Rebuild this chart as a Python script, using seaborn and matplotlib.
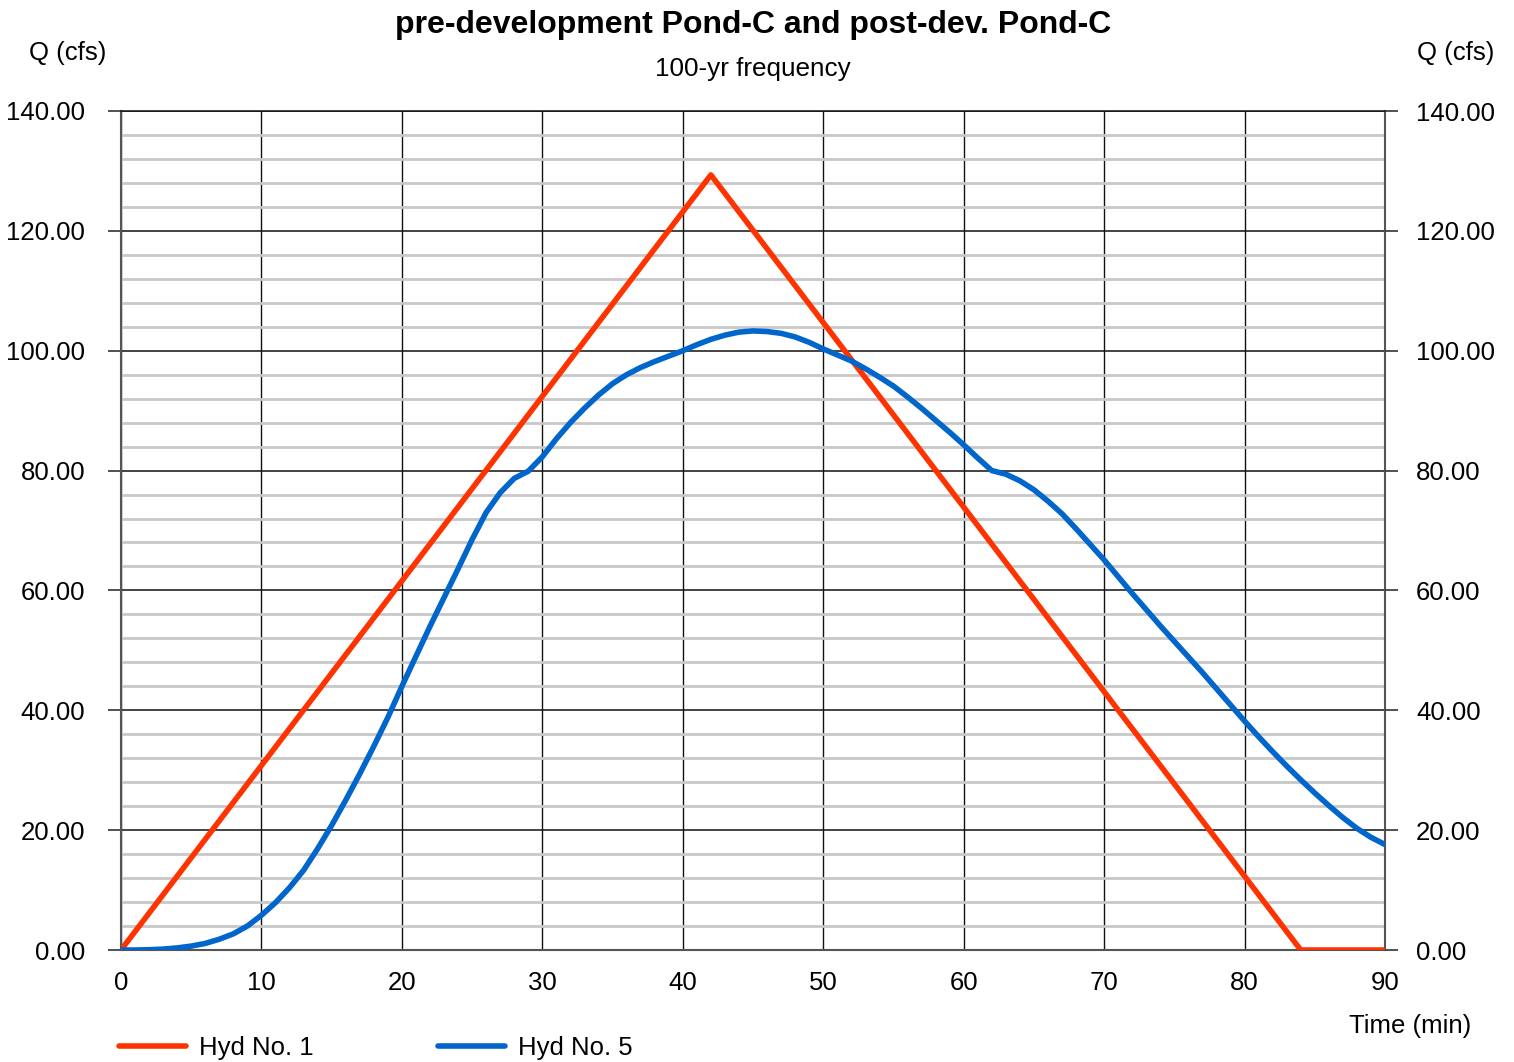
import numpy as np
import pandas as pd
import matplotlib
matplotlib.use("Agg")
import matplotlib.pyplot as plt
from matplotlib.ticker import MultipleLocator, FormatStrFormatter
from matplotlib.lines import Line2D
import seaborn as sns

# Hydrograph ordinates (time in minutes, flow in cfs)
hyd1_time = [0, 42, 84, 90]
hyd1_q = [0.0, 129.34, 0.0, 0.0]

hyd5_time = list(range(0, 91))
hyd5_q = [
    0.0, 0.0, 0.05, 0.15, 0.35, 0.65, 1.1, 1.8, 2.7, 4.0,
    5.8, 7.9, 10.4, 13.3, 16.9, 20.8, 25.0, 29.4, 34.0, 38.8,
    44.0, 49.0, 54.0, 58.8, 63.6, 68.5, 73.0, 76.3, 78.7, 79.9,
    82.3, 85.3, 88.0, 90.4, 92.6, 94.5, 96.0, 97.2, 98.2, 99.1,
    100.0, 101.0, 101.9, 102.6, 103.1, 103.3, 103.2, 102.9, 102.3, 101.4,
    100.3, 99.3, 98.3, 97.0, 95.6, 94.1, 92.3, 90.4, 88.4, 86.4,
    84.3, 82.1, 80.0, 79.4, 78.3, 76.8, 74.9, 72.8, 70.3, 67.7,
    65.1, 62.3, 59.5, 56.8, 54.1, 51.5, 48.9, 46.3, 43.6, 40.9,
    38.2, 35.6, 33.1, 30.7, 28.4, 26.2, 24.1, 22.1, 20.3, 18.8,
    17.6,
]

series_names = ["Hyd No. 1", "Hyd No. 5"]
series_colors = ["#FF3300", "#0066CC"]

title = "pre-development Pond-C and post-dev. Pond-C"
subtitle = "100-yr frequency"
y_label = "Q (cfs)"
x_label = "Time (min)"

df = pd.concat([
    pd.DataFrame({"time": hyd1_time, "q": hyd1_q, "series": series_names[0]}),
    pd.DataFrame({"time": hyd5_time, "q": hyd5_q, "series": series_names[1]}),
], ignore_index=True)

sns.set_theme(style="white")
plt.rcParams["font.family"] = ["Liberation Sans", "DejaVu Sans"]
plt.rcParams["text.color"] = "black"
FS = 18.5
LW = 4.0

W, H = 1514, 1062
fig = plt.figure(figsize=(W / 100, H / 100), dpi=100)
ax = fig.add_axes([121 / W, 1 - 950 / H, (1385 - 121) / W, (950 - 111) / H])

sns.lineplot(data=df, x="time", y="q", hue="series", palette=series_colors,
             hue_order=series_names, linewidth=LW, ax=ax, legend=False,
             estimator=None, sort=False, zorder=5)
for ln in ax.lines:
    ln.set_solid_capstyle("round")
    ln.set_solid_joinstyle("round")

ax.set_xlim(0, 90)
ax.set_ylim(0, 140)
ax.set_xlabel("")
ax.set_ylabel("")

ax.xaxis.set_major_locator(MultipleLocator(10))
ax.yaxis.set_major_locator(MultipleLocator(20))
ax.yaxis.set_minor_locator(MultipleLocator(4))
ax.yaxis.set_major_formatter(FormatStrFormatter("%.2f"))

ax.grid(which="minor", axis="y", color="#c8c8c8", linewidth=2.0, zorder=0)
ax.grid(which="major", axis="y", color="#111111", linewidth=1.1, zorder=1)
ax.grid(which="major", axis="x", color="#111111", linewidth=1.0, zorder=1)
ax.set_axisbelow(True)

for side in ["left", "right", "bottom", "top"]:
    ax.spines[side].set_color("#555555")
    ax.spines[side].set_linewidth(1.5)
ax.spines["top"].set_color("#111111")
ax.spines["top"].set_linewidth(1.1)

ax.tick_params(axis="x", which="both", length=0, pad=15, labelsize=FS, colors="black")
ax.tick_params(axis="y", which="major", direction="out", length=9.4, width=1.2,
               color="#333333", left=True, right=True, labelleft=True,
               labelright=False, pad=16.5, labelsize=FS, labelcolor="black")
ax.tick_params(axis="y", which="minor", length=0)

# Right-hand axis repeats the flow scale
ax2 = ax.twinx()
ax2.set_ylim(ax.get_ylim())
ax2.yaxis.set_major_locator(MultipleLocator(20))
ax2.yaxis.set_major_formatter(FormatStrFormatter("%.2f"))
ax2.tick_params(axis="y", which="major", direction="out", length=9.4, width=1.2,
                color="#333333", pad=13, labelsize=FS, labelcolor="black")
ax2.grid(False)
for s in ax2.spines.values():
    s.set_visible(False)

fig.text(753 / W, 1 - 25 / H, title, ha="center", va="center",
         fontsize=23, fontweight="bold", color="black")
fig.text(753 / W, 1 - 69 / H, subtitle, ha="center", va="center",
         fontsize=18.8, color="black")
fig.text(68 / W, 1 - 53 / H, y_label, ha="center", va="center", fontsize=FS, color="black")
fig.text(1456 / W, 1 - 53 / H, y_label, ha="center", va="center", fontsize=FS, color="black")
fig.text(1410 / W, 1 - 1026 / H, x_label, ha="center", va="center", fontsize=FS, color="black")

handles = [Line2D([], [], color=c, linewidth=LW, solid_capstyle="round")
           for c in series_colors]
leg = fig.legend(handles, series_names, loc="center left",
                 bbox_to_anchor=(119 / W, 1 - 1048 / H), ncol=2, frameon=False,
                 fontsize=FS, handlelength=2.6, handletextpad=0.5,
                 columnspacing=4.85, borderpad=0, borderaxespad=0)
for t in leg.get_texts():
    t.set_color("black")

fig.savefig("out.png", dpi=100, facecolor="white")
